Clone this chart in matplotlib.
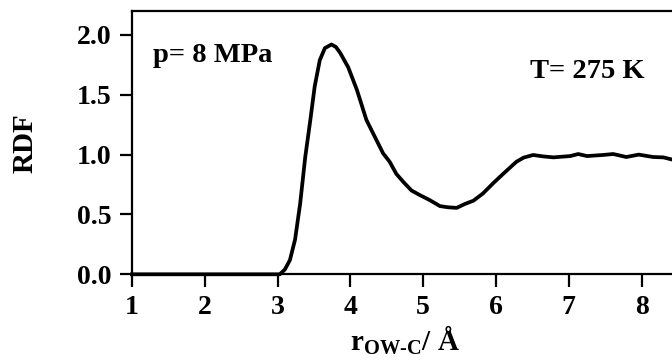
import numpy as np
import matplotlib
matplotlib.use("Agg")
import matplotlib.pyplot as plt

plt.rcParams['font.family'] = ['Liberation Serif', 'DejaVu Serif']
plt.rcParams['font.weight'] = 'bold'
plt.rcParams['mathtext.fontset'] = 'custom'
plt.rcParams['mathtext.rm'] = 'Liberation Serif:bold'
plt.rcParams['mathtext.bf'] = 'Liberation Serif:bold'

# RDF O(water) - C
r = [1.0, 2.0, 2.9, 3.03, 3.10, 3.17, 3.24, 3.31, 3.38, 3.45, 3.51, 3.58, 3.65,
     3.74, 3.80, 3.86, 3.97, 4.09, 4.22, 4.31, 4.45, 4.54, 4.63, 4.73, 4.84,
     4.96, 5.09, 5.23, 5.34, 5.46, 5.57, 5.69, 5.82, 5.96, 6.10, 6.28, 6.38,
     6.51, 6.65, 6.79, 7.02, 7.13, 7.25, 7.47, 7.61, 7.79, 7.96, 8.16, 8.30,
     8.41, 8.5]
g = [0.0, 0.0, 0.0, 0.0, 0.04, 0.12, 0.29, 0.59, 0.98, 1.29, 1.57, 1.79, 1.89,
     1.92, 1.90, 1.85, 1.73, 1.54, 1.29, 1.18, 1.01, 0.94, 0.84, 0.77, 0.70,
     0.66, 0.62, 0.57, 0.56, 0.555, 0.587, 0.615, 0.675, 0.76, 0.84, 0.94, 0.975,
     0.997, 0.985, 0.977, 0.988, 1.005, 0.988, 0.997, 1.005, 0.98, 1.0, 0.98, 0.977,
     0.96, 0.95]

fig = plt.figure(figsize=(6.72, 3.64), dpi=100)
ax = fig.add_axes([0.1964, 0.2464, 0.8125, 0.7234])
ax.plot(r, g, color='black', linewidth=2.7, clip_on=False, zorder=3,
        solid_joinstyle='round')

ax.set_xlim(1, 8.5)
ax.set_ylim(0, 2.2)
ax.set_xticks([1, 2, 3, 4, 5, 6, 7, 8])
ax.set_yticks([0.0, 0.5, 1.0, 1.5, 2.0])
ax.set_yticklabels(['0.0', '0.5', '1.0', '1.5', '2.0'])
ax.tick_params(direction='out', length=9, width=1.6, labelsize=20)
ax.tick_params(axis='x', pad=6)
ax.tick_params(axis='y', pad=6)
for s in ax.spines.values():
    s.set_linewidth(1.6)

ax.set_ylabel('RDF', fontsize=21, fontweight='bold', labelpad=27)
ax.set_xlabel(r'r$_{\mathrm{OW}\text{-}\mathrm{C}}$/ Å', fontsize=21,
              fontweight='bold', labelpad=2)

ax.text(1.29, 1.77, 'p= 8 MPa', fontsize=20.5, fontweight='bold', va='baseline')
ax.text(6.47, 1.64, 'T= 275 K', fontsize=20.5, fontweight='bold', va='baseline')

fig.savefig('out.png', dpi=100)
